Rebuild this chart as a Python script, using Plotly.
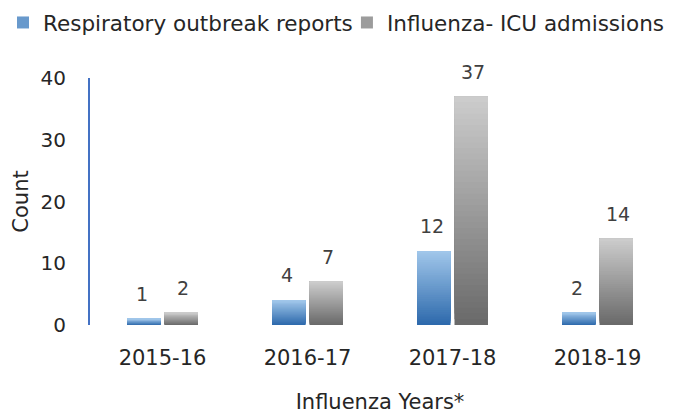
import plotly.graph_objects as go

categories = ["2015-16", "2016-17", "2017-18", "2018-19"]
outbreak_reports = [1, 4, 12, 2]
icu_admissions = [2, 7, 37, 14]
series_names = ["Respiratory outbreak reports", "Influenza- ICU admissions"]
y_ticks = [0, 10, 20, 30, 40]

FONT = "DejaVu Sans"
TXT = "#262626"
K = 40  # gradient steps


def lerp(c1, c2, t):
    return "rgb(%d,%d,%d)" % tuple(round(a + (b - a) * t) for a, b in zip(c1, c2))


series = [
    (series_names[0], outbreak_reports, (46, 106, 172), (160, 198, 234), "a", "legend"),
    (series_names[1], icu_admissions, (106, 106, 106), (204, 204, 204), "b", "legend2"),
]

fig = go.Figure()
for name, vals, dark, light, grp, leg in series:
    for i in range(K):
        t = i / (K - 1)
        fig.add_trace(go.Bar(
            x=categories,
            y=[v * (1 - i / K) for v in vals],
            base=[v * i / K for v in vals],
            offsetgroup=grp,
            legendgroup=grp,
            legend=leg,
            name=name,
            showlegend=(i == K // 2),
            marker=dict(color=lerp(dark, light, t), line=dict(width=0)),
            hoverinfo="skip",
        ))

annotations = []
for (name, vals, dark, light, grp, leg), shift in zip(series, [-20.75, 20.75]):
    for c, v in zip(categories, vals):
        annotations.append(dict(
            x=c, y=v, xref="x", yref="y", text=str(v), showarrow=False,
            xshift=shift, yshift=25, yanchor="middle",
            font=dict(family=FONT, size=19, color="#404040"),
        ))

legend_common = dict(orientation="h", xanchor="left", yanchor="top", y=1.3077,
                     font=dict(family=FONT, size=21.5, color=TXT),
                     bgcolor="rgba(0,0,0,0)", borderwidth=0)

fig.update_layout(
    width=670, height=406,
    margin=dict(l=82, r=8, t=70, b=89, autoexpand=False),
    paper_bgcolor="white", plot_bgcolor="white",
    barmode="group", bargap=0.483, bargroupgap=0.107,
    font=dict(family=FONT, size=21, color=TXT),
    showlegend=True,
    legend=dict(x=-0.15, **legend_common),
    legend2=dict(x=0.443, **legend_common),
    annotations=annotations,
    xaxis=dict(showline=False, showgrid=False, zeroline=False,
               ticks="outside", ticklen=14, tickcolor="rgba(0,0,0,0)",
               automargin=False,
               tickfont=dict(family=FONT, size=21, color=TXT),
               title=dict(text="Influenza Years*", standoff=29,
                          font=dict(family=FONT, size=21, color=TXT))),
    yaxis=dict(range=[0, 40], tickvals=y_ticks, showgrid=False, zeroline=False,
               automargin=False,
               showline=True, linecolor="#4472C4", linewidth=2,
               ticks="outside", ticklen=18, tickcolor="rgba(0,0,0,0)",
               tickfont=dict(family=FONT, size=20, color=TXT),
               title=dict(text="Count", standoff=6,
                          font=dict(family=FONT, size=21, color=TXT))),
)

fig.write_html("out.html")
